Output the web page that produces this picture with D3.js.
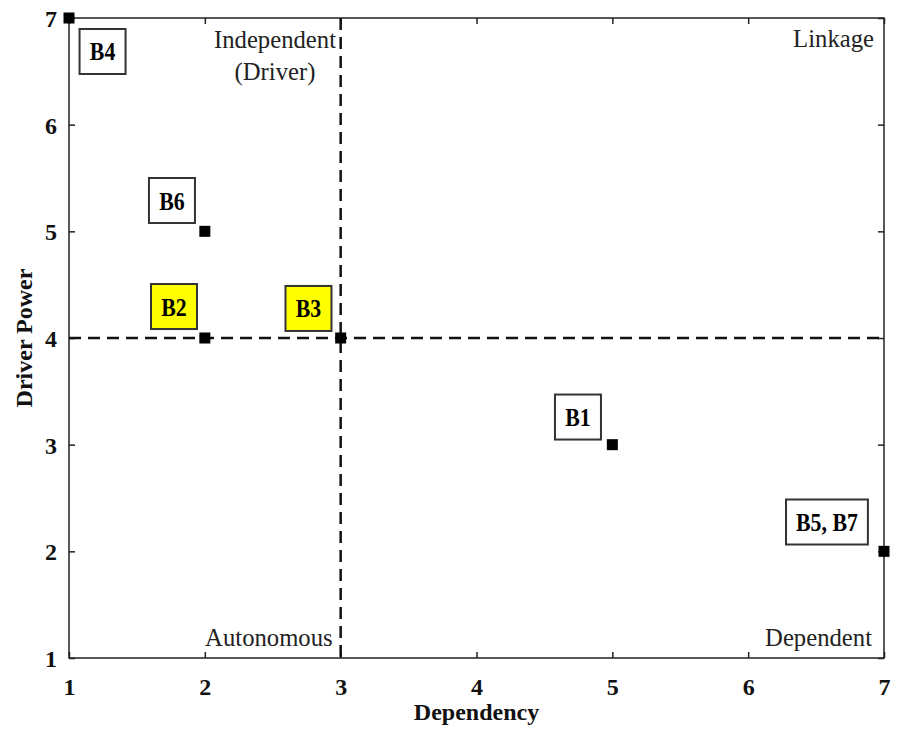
<!DOCTYPE html>
<html>
<head>
<meta charset="utf-8">
<script src="https://cdn.jsdelivr.net/npm/d3@7"></script>
<style>
  html, body { margin: 0; padding: 0; background: #fff; }
  svg { display: block; font-family: "Liberation Serif", "Times New Roman", serif; }
</style>
</head>
<body>
<svg id="chart" width="897" height="732"></svg>
<script>
// ---- data ----
const labels      = ["B4", "B6", "B2", "B3", "B1", "B5, B7"];
const dependency  = [1, 2, 2, 3, 5, 7];
const driverPower = [7, 5, 4, 4, 3, 2];
const highlighted = [false, false, true, true, false, false];
// label box centres (data units)
const labelDep    = [1.247, 1.758, 1.773, 2.763, 4.747, 6.580];
const labelDrv    = [6.686, 5.289, 4.295, 4.277, 3.259, 2.275];
const xTicks = [1, 2, 3, 4, 5, 6, 7];
const yTicks = [1, 2, 3, 4, 5, 6, 7];
const threshold = { dep: 3, drv: 4 };
const quadrants = ["Independent", "(Driver)", "Linkage", "Autonomous", "Dependent"];

// ---- layout ----
const W = 897, H = 732;
const m = { left: 69, right: 13, top: 18, bottom: 74 };
const svg = d3.select("#chart");
const x = d3.scaleLinear().domain([1, 7]).range([m.left, W - m.right]);
const y = d3.scaleLinear().domain([1, 7]).range([H - m.bottom, m.top]);
const ink = "#222";

// frame
svg.append("rect")
  .attr("x", x(1)).attr("y", y(7))
  .attr("width", x(7) - x(1)).attr("height", y(1) - y(7))
  .attr("fill", "none").attr("stroke", ink).attr("stroke-width", 1.5);

// axes (ticks inward)
const tl = 6;
const xb = svg.append("g").attr("transform", `translate(0,${y(1)})`)
  .call(d3.axisBottom(x).tickValues(xTicks).tickSize(-tl).tickFormat(d3.format("d")).tickPadding(17));
const xt = svg.append("g").attr("transform", `translate(0,${y(7)})`)
  .call(d3.axisTop(x).tickValues(xTicks).tickSize(-tl).tickFormat(""));
const yl = svg.append("g").attr("transform", `translate(${x(1)},0)`)
  .call(d3.axisLeft(y).tickValues(yTicks).tickSize(-tl).tickFormat(d3.format("d")).tickPadding(12));
const yr = svg.append("g").attr("transform", `translate(${x(7)},0)`)
  .call(d3.axisRight(y).tickValues(yTicks).tickSize(-tl).tickFormat(""));
[xb, xt, yl, yr].forEach(g => {
  g.select(".domain").remove();
  g.selectAll(".tick line").attr("stroke", ink).attr("stroke-width", 1.5);
  g.selectAll(".tick text").attr("fill", "#111")
    .style("font-family", '"Liberation Serif", serif')
    .style("font-size", "24px").style("font-weight", "bold");
});
xb.selectAll(".tick text").attr("dy", "0.85em");
yl.selectAll(".tick text").attr("dy", "0.36em");

// dashed threshold lines
svg.append("line")
  .attr("x1", x(threshold.dep)).attr("x2", x(threshold.dep))
  .attr("y1", y(7)).attr("y2", y(1))
  .attr("stroke", "#111").attr("stroke-width", 2.5).attr("stroke-dasharray", "12,7");
svg.append("line")
  .attr("x1", x(1)).attr("x2", x(7))
  .attr("y1", y(threshold.drv)).attr("y2", y(threshold.drv))
  .attr("stroke", "#111").attr("stroke-width", 2.5).attr("stroke-dasharray", "12,7");

// quadrant labels
function qText(str, px, py, anchor) {
  svg.append("text")
    .attr("transform", `translate(${px},${py}) scale(0.95,1)`)
    .attr("text-anchor", anchor)
    .attr("fill", "#222")
    .style("font-size", "26px")
    .text(str);
}
qText(quadrants[0], 275, 48, "middle");
qText(quadrants[1], 275, 80, "middle");
qText(quadrants[2], x(7) - 10, 47, "end");
qText(quadrants[3], x(threshold.dep) - 8, 646, "end");
qText(quadrants[4], x(7) - 12, 646, "end");

// markers
const ms = 11;
svg.append("g").selectAll("rect")
  .data(dependency.map((d, i) => ({ d, p: driverPower[i] })))
  .join("rect")
  .attr("x", o => x(o.d) - ms / 2).attr("y", o => y(o.p) - ms / 2)
  .attr("width", ms).attr("height", ms).attr("fill", "#000");

// label boxes
const sx = 0.84;
labels.forEach((lab, i) => {
  const cx = x(labelDep[i]), cy = y(labelDrv[i]);
  const g = svg.append("g");
  const rect = g.append("rect");
  const t = g.append("text")
    .attr("transform", `translate(${cx},${cy + 9}) scale(${sx},1)`)
    .attr("text-anchor", "middle")
    .attr("fill", "#000")
    .style("font-size", "26px").style("font-weight", "bold")
    .text(lab);
  const tw = t.node().getComputedTextLength() * sx;
  const bw = Math.max(46, tw + 20), bh = 45;
  rect.attr("x", cx - bw / 2).attr("y", cy - bh / 2)
    .attr("width", bw).attr("height", bh)
    .attr("fill", highlighted[i] ? "#ffff00" : "#fff")
    .attr("stroke", "#333").attr("stroke-width", 2);
});

// axis titles
svg.append("text")
  .attr("x", (x(1) + x(7)) / 2).attr("y", 720)
  .attr("text-anchor", "middle").attr("fill", "#111")
  .style("font-size", "24px").style("font-weight", "bold")
  .text("Dependency");
svg.append("text")
  .attr("transform", `translate(32,${(y(1) + y(7)) / 2}) rotate(-90)`)
  .attr("text-anchor", "middle").attr("fill", "#111")
  .style("font-size", "24px").style("font-weight", "bold")
  .text("Driver Power");
</script>
</body>
</html>
